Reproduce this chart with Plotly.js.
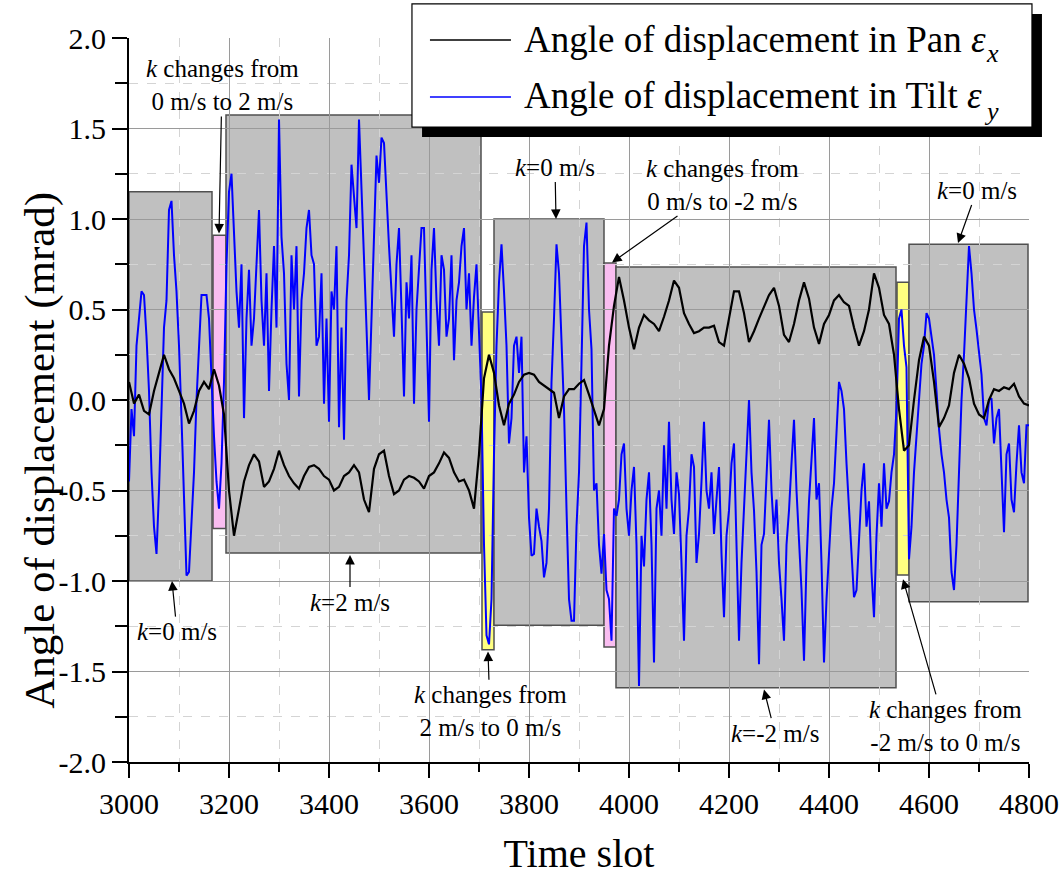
<!DOCTYPE html>
<html>
<head>
<meta charset="utf-8">
<script src="https://cdn.plot.ly/plotly-3.0.1.min.js"></script>
<style>html,body{margin:0;padding:0;background:#fff;}#chart{width:1063px;height:876px;}</style>
</head>
<body>
<div id="chart"></div>
<script>
// Time slots: first sample and spacing of the samples
const timeStart = 3000;
const panStep = 10;
const tiltStep = 5;

// Angle of displacement in Pan (epsilon_x), mrad, one value every 10 time slots
const panValues = [
  0.10,-0.02,0.03,-0.06,-0.08,0.05,0.15,0.25,0.17,0.12,
  0.05,-0.02,-0.13,-0.06,0.05,0.10,0.06,0.17,0.08,-0.08,
  -0.50,-0.75,-0.60,-0.45,-0.36,-0.30,-0.34,-0.48,-0.45,-0.38,
  -0.28,-0.36,-0.42,-0.46,-0.49,-0.42,-0.37,-0.36,-0.38,-0.42,
  -0.44,-0.50,-0.48,-0.42,-0.40,-0.36,-0.40,-0.55,-0.62,-0.38,
  -0.30,-0.28,-0.42,-0.52,-0.50,-0.44,-0.42,-0.43,-0.45,-0.49,
  -0.42,-0.40,-0.35,-0.29,-0.32,-0.40,-0.45,-0.44,-0.50,-0.60,
  -0.30,0.12,0.25,0.15,-0.03,-0.14,-0.02,0.03,0.10,0.14,
  0.15,0.14,0.10,0.08,0.06,0.04,-0.10,0.02,0.06,0.06,
  0.09,0.11,0.03,-0.06,-0.14,-0.05,0.30,0.52,0.68,0.55,
  0.40,0.28,0.40,0.47,0.44,0.42,0.38,0.46,0.55,0.66,
  0.62,0.48,0.42,0.37,0.38,0.40,0.40,0.41,0.32,0.30,
  0.46,0.60,0.60,0.48,0.32,0.38,0.45,0.52,0.58,0.62,
  0.52,0.36,0.32,0.42,0.55,0.65,0.56,0.40,0.31,0.42,
  0.47,0.55,0.58,0.54,0.52,0.40,0.30,0.38,0.50,0.70,
  0.62,0.47,0.42,0.25,-0.05,-0.28,-0.25,0.00,0.22,0.35,
  0.30,0.10,-0.15,-0.10,-0.03,0.15,0.25,0.20,0.12,-0.02,
  -0.08,-0.10,0.00,0.06,0.05,0.07,0.06,0.09,0.02,-0.02,
  -0.03
];

// Angle of displacement in Tilt (epsilon_y), mrad, one value every 5 time slots
const tiltValues = [
  -0.45,-0.05,-0.20,0.30,0.45,0.60,0.58,0.35,0.05,-0.40,-0.70,-0.85,-0.50,0.00,0.40,0.55,1.05,1.10,0.80,0.60,
  0.30,-0.10,-0.55,-0.97,-0.95,-0.70,-0.40,0.00,0.30,0.58,0.58,0.58,0.45,0.10,-0.20,-0.45,-0.60,-0.35,0.10,0.75,
  1.15,1.25,0.95,0.60,0.40,0.75,-0.10,0.45,0.72,0.30,0.45,0.80,1.05,0.55,0.30,0.70,0.05,0.50,0.85,0.40,
  1.55,0.90,0.70,0.20,0.00,0.80,0.50,0.85,0.02,0.55,0.70,0.95,1.05,0.80,0.75,0.30,0.35,0.70,-0.02,0.45,
  -0.12,0.60,0.50,0.85,-0.15,0.40,-0.22,0.55,0.80,1.30,1.12,0.95,1.55,1.20,0.75,0.40,0.00,0.45,0.85,1.35,
  1.20,1.45,1.42,1.10,0.85,0.60,0.35,0.75,0.95,0.50,0.02,0.65,0.45,0.80,-0.02,0.50,0.75,0.95,0.95,0.35,
  -0.12,0.72,0.95,0.55,0.30,0.80,0.72,0.35,0.45,0.80,0.22,0.55,0.65,0.85,0.95,0.50,0.70,0.30,0.57,0.75,
  0.40,0.00,-0.80,-1.30,-1.35,-1.10,-0.30,0.30,0.65,0.86,0.60,0.30,-0.24,-0.10,0.30,0.35,0.15,0.35,-0.40,-0.20,
  -0.65,-0.86,-0.85,-0.60,-0.70,-0.78,-0.98,-0.90,-0.60,0.10,0.45,0.86,0.70,0.35,-0.05,-0.60,-1.10,-1.22,-1.22,-0.70,
  -0.40,0.20,0.85,0.98,0.50,0.28,-0.50,-0.46,-0.80,-0.96,-0.74,-1.05,-1.10,-1.33,-0.60,-0.64,-0.55,-0.30,-0.24,-0.60,
  -0.75,-0.50,-0.37,-0.80,-1.58,-0.75,-0.92,-0.55,-0.40,-0.80,-1.45,-0.60,-0.50,-0.75,-0.25,-0.60,-0.12,-0.55,-0.74,-0.40,
  -0.52,-0.90,-1.33,-0.75,-0.60,-0.30,-0.37,-0.90,-0.74,-0.45,-0.12,-0.50,-0.60,-0.40,-0.74,-0.55,-0.37,-0.85,-1.20,-0.75,
  -0.61,-0.35,-0.24,-0.80,-1.33,-0.90,-0.55,-0.30,0.00,-0.40,-0.61,-0.95,-1.46,-0.80,-0.74,-0.40,-0.11,-0.50,-0.74,-0.55,
  -0.90,-1.10,-1.33,-0.80,-0.61,-0.35,-0.11,-0.50,-0.74,-1.05,-1.44,-0.90,-0.56,-0.30,-0.10,-0.55,-0.46,-0.90,-1.45,-1.10,
  -0.88,-0.60,-0.46,-0.20,0.10,0.05,-0.05,-0.35,-0.60,-0.90,-1.09,-1.05,-0.77,-0.50,-0.35,-0.70,-0.56,-0.95,-1.20,-0.75,
  -0.46,-0.70,-0.35,-0.60,-0.56,-0.40,-0.30,-0.05,0.45,0.50,0.30,0.18,-0.88,-0.70,-0.40,-0.20,0.00,0.20,0.30,0.48,
  0.45,0.35,0.25,0.05,-0.16,-0.30,-0.40,-0.55,-0.65,-0.95,-1.05,-0.80,-0.40,0.00,0.25,0.56,0.85,0.70,0.50,0.39,
  0.25,0.14,-0.10,-0.14,0.00,0.01,-0.24,-0.10,-0.05,-0.40,-0.73,-0.30,-0.24,-0.55,-0.62,-0.35,-0.14,-0.40,-0.46,-0.14,
  -0.14
];

// Y-axis tick values and labels (hyphen minus as in the figure)
const yTickValues = [-2, -1.5, -1, -0.5, 0, 0.5, 1, 1.5, 2];
const yTickLabels = ['-2.0', '-1.5', '-1.0', '-0.5', '0.0', '0.5', '1.0', '1.5', '2.0'];

// Highlighted phases (time-slot span and value span of each box)
const phaseStart  = [3000, 3168, 3194, 3706, 3730, 3950, 3974, 4536, 4560];
const phaseEnd    = [3166, 3194, 3704, 3730, 3950, 3974, 4534, 4560, 4798];
const phaseTop    = [1.15, 0.91, 1.575, 0.486, 1.0, 0.757, 0.735, 0.65, 0.86];
const phaseBottom = [-1.0, -0.71, -0.845, -1.38, -1.245, -1.365, -1.59, -0.967, -1.115];
const phaseKind   = ['steady','rise','steady','fall','steady','rise','steady','fall','steady'];

// Annotation texts, text centres and arrow tips in data units
const noteTexts = [
  '<i>k</i> changes from<br>0 m/s to 2 m/s',
  '<i>k</i>=0 m/s',
  '<i>k</i>=2 m/s',
  '<i>k</i>=0 m/s',
  '<i>k</i> changes from<br>0 m/s to -2 m/s',
  '<i>k</i> changes from<br>2 m/s to 0 m/s',
  '<i>k</i>=-2 m/s',
  '<i>k</i>=0 m/s',
  '<i>k</i> changes from<br>-2 m/s to 0 m/s'
];
const noteX = [3186, 3096, 3442, 3852, 4186, 3722, 4292, 4696, 4632];
const noteY = [1.74, -1.28, -1.116, 1.287, 1.19, -1.72, -1.84, 1.16, -1.80];
const arrowTipX  = [3180, 3086, 3442, 3854, 3966, 3718, 4270, 4658, 4548];
const arrowTipY  = [0.92, -1.0, -0.856, 1.0, 0.76, -1.39, -1.60, 0.867, -0.99];

// Series names (legend): main text plus symbol subscript
const seriesNames = ['Angle of displacement in Pan <i>ε</i>', 'Angle of displacement in Tilt <i>ε</i>'];
const seriesSubscripts = ['x', 'y'];
const xTitle = 'Time slot';
const yTitle = 'Angle of displacement (mrad)';

const FONT = 'Liberation Serif, Times New Roman, serif';
const kindFill = {steady: '#c0c0c0', rise: '#f9bdf0', fall: '#ffff80'};

const traces = [
  {
    type: 'scatter', mode: 'lines', name: seriesNames[1] + seriesSubscripts[1],
    x0: timeStart, dx: tiltStep, y: tiltValues,
    line: {color: '#0000ff', width: 2}, showlegend: false
  },
  {
    type: 'scatter', mode: 'lines', name: seriesNames[0] + seriesSubscripts[0],
    x0: timeStart, dx: panStep, y: panValues,
    line: {color: '#000000', width: 2.2}, showlegend: false
  }
];

const shapes = [];
for (let i = 0; i < phaseStart.length; i++) {
  shapes.push({
    type: 'rect', xref: 'x', yref: 'y', layer: 'below',
    x0: phaseStart[i], x1: phaseEnd[i], y0: phaseBottom[i], y1: phaseTop[i],
    fillcolor: kindFill[phaseKind[i]], line: {color: '#505050', width: 1.5}
  });
}
// Legend box with drop shadow (paper coordinates)
shapes.push({type:'rect', xref:'paper', yref:'paper', layer:'above',
  x0:0.3256, x1:1.0144, y0:0.8633, y1:1.0331, fillcolor:'#000', line:{width:0}});
shapes.push({type:'rect', xref:'paper', yref:'paper', layer:'above',
  x0:0.3144, x1:1.0033, y0:0.877, y1:1.047, fillcolor:'#fff', line:{color:'#000', width:1.2}});
shapes.push({type:'line', xref:'paper', yref:'paper', layer:'above',
  x0:0.3344, x1:0.4244, y0:0.9972, y1:0.9972, line:{color:'#000', width:1.5}});
shapes.push({type:'line', xref:'paper', yref:'paper', layer:'above',
  x0:0.3344, x1:0.4244, y0:0.9185, y1:0.9185, line:{color:'#0000ff', width:1.5}});

const annotations = [];
for (let i = 0; i < noteTexts.length; i++) {
  annotations.push({
    xref: 'x', yref: 'y', axref: 'x', ayref: 'y',
    x: arrowTipX[i], y: arrowTipY[i], ax: noteX[i], ay: noteY[i],
    text: noteTexts[i], showarrow: true, arrowhead: 2, arrowsize: 1.6, arrowwidth: 1.2,
    arrowcolor: '#000', standoff: 0,
    font: {family: FONT, size: 25, color: '#000'}, align: 'center'
  });
}
const legendRowY = [0.9985, 0.9200];
const legendSubX = [0.9500, 0.9480];
const legendSubY = [0.9790, 0.8990];
for (let i = 0; i < 2; i++) {
  annotations.push({xref:'paper', yref:'paper', x:0.4367, y:legendRowY[i], xanchor:'left', yanchor:'middle',
    text: seriesNames[i], showarrow:false, font:{family:FONT, size:37, color:'#000'}});
  annotations.push({xref:'paper', yref:'paper', x:legendSubX[i], y:legendSubY[i], xanchor:'left', yanchor:'middle',
    text: '<i>' + seriesSubscripts[i] + '</i>', showarrow:false, font:{family:FONT, size:26, color:'#000'}});
}
// Y-axis title
annotations.push({xref:'paper', yref:'paper', x:-0.099, y:0.431, xanchor:'center', yanchor:'middle',
  textangle:-90, text: yTitle, showarrow:false, font:{family:FONT, size:43, color:'#000'}});

const axisCommon = {
  showline: true, linecolor: '#000', linewidth: 2,
  ticks: 'outside', tickcolor: '#000', tickwidth: 2,
  showgrid: true, gridcolor: '#9a9a9a', gridwidth: 1, zeroline: false,
  tickfont: {family: FONT, size: 30, color: '#000'}
};

const layout = {
  width: 1063, height: 876,
  margin: {l: 129, r: 34, t: 38, b: 114},
  paper_bgcolor: '#fff', plot_bgcolor: '#fff',
  font: {family: FONT, color: '#000'},
  showlegend: false,
  xaxis: Object.assign({}, axisCommon, {
    range: [3000, 4800], tick0: 3000, dtick: 200, ticklen: 14,
    minor: {tick0: 3000, dtick: 100, ticks: 'outside', ticklen: 8, tickwidth: 2, tickcolor: '#000',
            showgrid: true, gridcolor: '#d4d4d4', griddash: 'dash', gridwidth: 1},
    title: {text: xTitle, font: {family: FONT, size: 40, color: '#000'}, standoff: 30}
  }),
  yaxis: Object.assign({}, axisCommon, {
    range: [-2, 2], tickmode: 'array', tickvals: yTickValues, ticktext: yTickLabels, ticklen: 15,
    minor: {tickmode: 'linear', tick0: 0, dtick: 0.25, ticks: 'outside', ticklen: 12, tickwidth: 2, tickcolor: '#000',
            showgrid: true, gridcolor: '#d4d4d4', griddash: 'dash', gridwidth: 1}
  }),
  shapes: shapes,
  annotations: annotations
};

Plotly.newPlot('chart', traces, layout, {displayModeBar: false, staticPlot: true});
</script>
</body>
</html>
